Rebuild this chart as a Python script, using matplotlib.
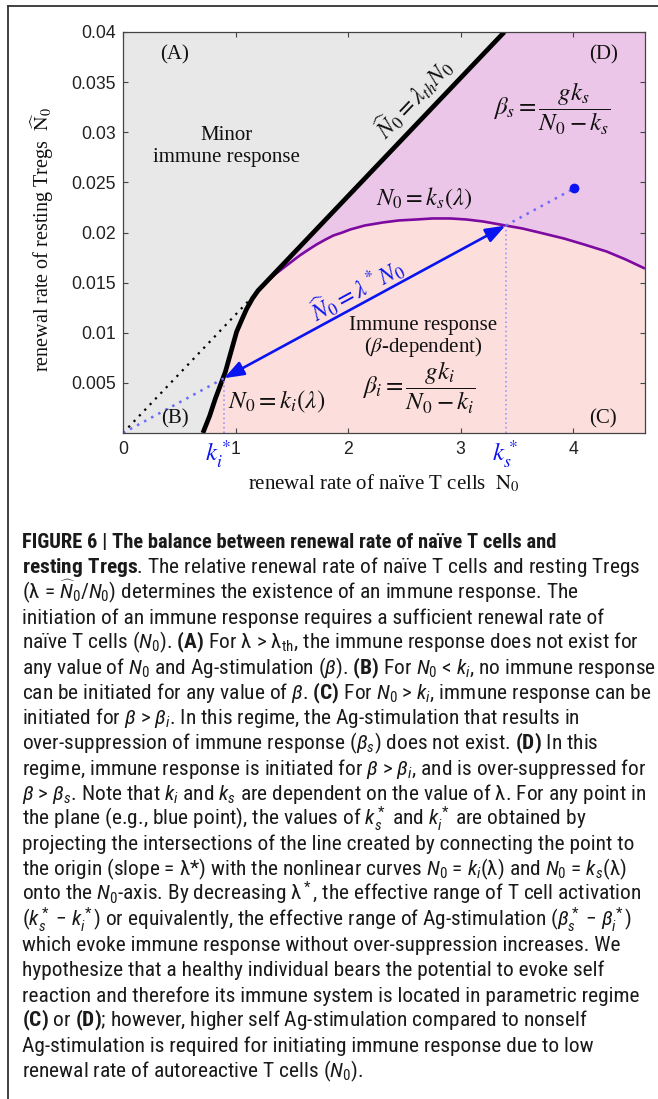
import math
import matplotlib
matplotlib.use('Agg')
import matplotlib.pyplot as plt
from matplotlib import font_manager as fm
from matplotlib.lines import Line2D
from matplotlib.patches import ArrowStyle

W, H = 658, 1099

# ---------------- data ----------------
x_ticks = [0, 1, 2, 3, 4]
x_tick_labels = ['0', '1', '2', '3', '4']
y_ticks = [0.005, 0.01, 0.015, 0.02, 0.025, 0.03, 0.035, 0.04]
y_tick_labels = ['0.005', '0.01', '0.015', '0.02', '0.025', '0.03', '0.035', '0.04']
x_max = 4.64
y_max = 0.04

# N0 = k_i(lambda) boundary (black curve)
ki_n0 = [0.71, 0.77, 0.82, 0.87, 0.91, 0.96, 1.01, 1.06, 1.10, 1.15, 1.20]
ki_nhat = [0.0, 0.0017, 0.0034, 0.0049, 0.0061, 0.0081, 0.0101, 0.0114, 0.0124, 0.0134, 0.0142]

# N0 = k_s(lambda) boundary (purple curve)
ks_n0 = [1.20, 1.28, 1.36, 1.43, 1.50, 1.57, 1.65, 1.72, 1.80, 1.87, 1.95, 2.02, 2.15, 2.31,
         2.45, 2.61, 2.75, 2.91, 3.05, 3.20, 3.40, 3.55, 3.70, 3.92, 4.10, 4.30, 4.47, 4.64]
ks_nhat = [0.0142, 0.0151, 0.0159, 0.0165, 0.0171, 0.0177, 0.0183, 0.0188, 0.0193, 0.0197,
           0.0200, 0.0203, 0.0207, 0.0210, 0.0212, 0.0213, 0.0214, 0.0214, 0.0213, 0.0211,
           0.0207, 0.0204, 0.0200, 0.0194, 0.0188, 0.0181, 0.0173, 0.0164]

lambda_th = 0.0118          # slope of the threshold line
blue_point = (4.01, 0.0244)  # example point
ki_star = 0.898
ks_star = 3.40

# ---------------- fonts ----------------
names = {f.name for f in fm.fontManager.ttflist}
cap_font = 'Liberation Sans'
for cand in ['Liberation Sans Narrow', 'Roboto Condensed', 'DejaVu Sans Condensed', 'Liberation Sans']:
    if cand in names:
        cap_font = cand
        break
plt.rcParams['mathtext.fontset'] = 'custom'
plt.rcParams['mathtext.rm'] = cap_font
plt.rcParams['mathtext.it'] = cap_font + ':italic'
plt.rcParams['mathtext.bf'] = cap_font + ':bold'
plt.rcParams['mathtext.sf'] = cap_font

SERIF = 'Liberation Serif'
SANS = 'Liberation Sans'

fig = plt.figure(figsize=(W / 100, H / 100), dpi=100)
fig.patch.set_facecolor('white')
renderer = fig.canvas.get_renderer()


def fx(px):
    return px / W


def fy(py):
    return 1 - py / H


def fit_size(text, target_px, base=12, **kw):
    t = fig.text(0, 0, text, fontsize=base, **kw)
    w = t.get_window_extent(renderer).width
    t.remove()
    return base * target_px / w


# outer frame (top & left)
fig.add_artist(Line2D([fx(8), 1.0], [fy(6), fy(6)], transform=fig.transFigure, color='#333333', lw=1.3))
fig.add_artist(Line2D([fx(8), fx(8)], [fy(6), 0.0], transform=fig.transFigure, color='#333333', lw=1.3))

ax_l, ax_t, ax_r, ax_b = 123, 32, 645, 433
ax = fig.add_axes([fx(ax_l), fy(ax_b), (ax_r - ax_l) / W, (ax_b - ax_t) / H])
ax.set_xlim(0, x_max)
ax.set_ylim(0, y_max)
ax.set_facecolor('#e8e8e8')

N_top = y_max / lambda_th

# regions
pink_x = ki_n0 + [N_top, x_max, x_max]
pink_y = ki_nhat + [y_max, y_max, 0.0]
ax.fill(pink_x, pink_y, color='#fcdfdc', lw=0, zorder=1)
purple_x = [ks_n0[0], N_top, x_max] + ks_n0[::-1]
purple_y = [ks_nhat[0], y_max, y_max] + ks_nhat[::-1]
ax.fill(purple_x, purple_y, color='#ecc6e8', lw=0, zorder=1)

# dotted threshold line extension
ax.plot([0, ki_n0[-1]], [0, lambda_th * ki_n0[-1]], color='black', lw=1.6,
        linestyle=(0, (1, 2.5)), zorder=2)

# purple k_s curve
ax.plot(ks_n0, ks_nhat, color='#7d0aa0', lw=1.9, zorder=3, solid_capstyle='butt',
        solid_joinstyle='round')

# black boundary
ax.plot(ki_n0 + [N_top], ki_nhat + [y_max], color='black', lw=3.4, zorder=4,
        solid_joinstyle='miter', solid_capstyle='butt')

# blue construction
lam_star = blue_point[1] / blue_point[0]
yi = lam_star * ki_star
ys = lam_star * ks_star
ax.plot([0, ki_star], [0, yi], color='#6a6aff', lw=1.8, linestyle=(0, (1, 2.2)), zorder=5)
ax.plot([ks_star, blue_point[0]], [ys, blue_point[1]], color='#6a6aff', lw=1.8,
        linestyle=(0, (1, 2.2)), zorder=5)
ax.plot([ki_star, ki_star], [0, yi], color='#8c8cff', lw=1.1, linestyle=(0, (1, 2)), zorder=5)
ax.plot([ks_star, ks_star], [0, ys], color='#8c8cff', lw=1.1, linestyle=(0, (1, 2)), zorder=5)
ax.annotate('', xy=(ks_star, ys), xytext=(ki_star, yi),
            arrowprops=dict(arrowstyle=ArrowStyle('<|-|>', head_length=0.6, head_width=0.22),
                            color='#0a14f0', lw=1.9, mutation_scale=20, shrinkA=0, shrinkB=0),
            zorder=6)
ax.plot([blue_point[0]], [blue_point[1]], 'o', color='#0a14f0', ms=6, zorder=7)

# ticks (label size fitted so that "0.035" is ~44 px wide, as in the reference)
tick_size = fit_size('0.035', 44, family=SANS)
ax.set_xticks(x_ticks)
ax.set_xticklabels(x_tick_labels, fontfamily=SANS, fontsize=tick_size, color='#222222')
ax.set_yticks(y_ticks)
ax.set_yticklabels(y_tick_labels, fontfamily=SANS, fontsize=tick_size, color='#222222')
ax.tick_params(direction='in', length=3.6, width=0.8, top=True, right=True, colors='#444444')
ax.tick_params(axis='x', pad=6, labelcolor='#222222')
ax.tick_params(axis='y', pad=5, labelcolor='#222222')
for s in ax.spines.values():
    s.set_color('#444444')
    s.set_linewidth(0.9)
    s.set_zorder(10)

# rotation angles in screen space
fig.canvas.draw()
p0 = ax.transData.transform((0, 0))
p1 = ax.transData.transform((N_top, y_max))
ang_th = math.degrees(math.atan2(p1[1] - p0[1], p1[0] - p0[0]))
p2 = ax.transData.transform((ks_star, ys))
ang_star = math.degrees(math.atan2(p2[1] - p0[1], p2[0] - p0[0]))

tkw = dict(family=SERIF, math_fontfamily='stix', color='#111111', zorder=8)
ax.text(0.46, 0.0377, '(A)', fontsize=15, ha='center', va='center', **tkw)
ax.text(4.27, 0.0377, '(D)', fontsize=15, ha='center', va='center', **tkw)
ax.text(4.27, 0.0014, '(C)', fontsize=15, ha='center', va='center', **tkw)
ax.text(0.46, 0.0014, '(B)', fontsize=15, ha='center', va='center', **tkw)
ax.text(0.92, 0.0297, 'Minor', fontsize=15, ha='center', va='center', **tkw)
ax.text(0.92, 0.0275, 'immune response', fontsize=15, ha='center', va='center', **tkw)
ax.text(2.67, 0.0107, 'Immune response', fontsize=15, ha='center', va='center', **tkw)
ax.text(2.67, 0.0086, r'($\beta$-dependent)', fontsize=15, ha='center', va='center', **tkw)
ax.text(3.81, 0.0323, r'$\beta_s = \dfrac{g k_s}{N_0 - k_s}$', fontsize=18, ha='center', va='center', **tkw)
ax.text(2.63, 0.0045, r'$\beta_i = \dfrac{g k_i}{N_0 - k_i}$', fontsize=18, ha='center', va='center', **tkw)
ax.text(2.68, 0.0234, r'$N_0 = k_s(\lambda)$', fontsize=17.5, ha='center', va='center', **tkw)
ax.text(1.37, 0.0031, r'$N_0 = k_i(\lambda)$', fontsize=18, ha='center', va='center', **tkw)
ax.text(2.58, 0.0334, r'$\widehat{N}_0 = \lambda_{th} N_0$', fontsize=17, ha='center', va='center',
        rotation=ang_th, rotation_mode='anchor', **tkw)
tkw_b = dict(tkw)
tkw_b['color'] = '#0a14f0'
ax.text(2.08, 0.0143, r'$\widehat{N}_0 = \lambda^* N_0$', fontsize=17, ha='center', va='center',
        rotation=ang_star, rotation_mode='anchor', **tkw_b)
ax.text(ki_star - 0.055, -0.0021, r'$k_i^*$', fontsize=18, ha='center', va='center', clip_on=False, **tkw_b)
ax.text(ks_star, -0.0021, r'$k_s^*$', fontsize=18, ha='center', va='center', clip_on=False, **tkw_b)

# axis labels
fig.text(fx(384), fy(489), r'renewal rate of naïve T cells  $\mathrm{N}_0$', fontsize=15,
         ha='center', va='baseline', family=SERIF, math_fontfamily='stix', color='#111111')
fig.text(fx(42), fy(240), r'renewal rate of resting Tregs  $\widehat{\mathrm{N}}_0$', fontsize=14.5,
         ha='center', va='center', rotation=90, family=SERIF, math_fontfamily='stix', color='#111111')

# ---------------- caption ----------------
cap_lines = [
    'FIGURE 6 | The balance between renewal rate of naïve T cells and',
    r'$\mathbf{resting\ Tregs}$. The relative renewal rate of naïve T cells and resting Tregs',
    r'(λ = $\widehat{N}_0/N_0$) determines the existence of an immune response. The',
    'initiation of an immune response requires a sufficient renewal rate of',
    r'naïve T cells ($N_0$). $\mathbf{(A)}$ For λ > λ$_{\mathrm{th}}$, the immune response does not exist for',
    r'any value of $N_0$ and Ag-stimulation ($\beta$). $\mathbf{(B)}$ For $N_0$ < $k_i$, no immune response',
    r'can be initiated for any value of $\beta$. $\mathbf{(C)}$ For $N_0$ > $k_i$, immune response can be',
    r'initiated for $\beta$ > $\beta_i$. In this regime, the Ag-stimulation that results in',
    r'over-suppression of immune response ($\beta_s$) does not exist. $\mathbf{(D)}$ In this',
    r'regime, immune response is initiated for $\beta$ > $\beta_i$, and is over-suppressed for',
    r'$\beta$ > $\beta_s$. Note that $k_i$ and $k_s$ are dependent on the value of λ. For any point in',
    r'the plane (e.g., blue point), the values of $k_s^*$ and $k_i^*$ are obtained by',
    'projecting the intersections of the line created by connecting the point to',
    r'the origin (slope = λ*) with the nonlinear curves $N_0$ = $k_i$(λ) and $N_0$ = $k_s$(λ)',
    r'onto the $N_0$-axis. By decreasing λ$^*$, the effective range of T cell activation',
    r'($k_s^*$ − $k_i^*$) or equivalently, the effective range of Ag-stimulation ($\beta_s^*$ − $\beta_i^*$)',
    'which evoke immune response without over-suppression increases. We',
    'hypothesize that a healthy individual bears the potential to evoke self',
    'reaction and therefore its immune system is located in parametric regime',
    r'$\mathbf{(C)}$ or $\mathbf{(D)}$; however, higher self Ag-stimulation compared to nonself',
    'Ag-stimulation is required for initiating immune response due to low',
    r'renewal rate of autoreactive T cells ($N_0$).',
]

cap_size = fit_size(cap_lines[5], 633, family=cap_font, math_fontfamily='custom')
head_size = min(cap_size, fit_size(cap_lines[0], 536, family=cap_font, fontweight='bold'))

for i, line in enumerate(cap_lines):
    fig.text(fx(22), fy(548 + i * 25.2), line, fontsize=head_size if i == 0 else cap_size,
             ha='left', va='baseline', family=cap_font, math_fontfamily='custom', color='#1a1a1a',
             fontweight='bold' if i == 0 else 'normal')

fig.savefig('out.png', dpi=100, facecolor='white')
